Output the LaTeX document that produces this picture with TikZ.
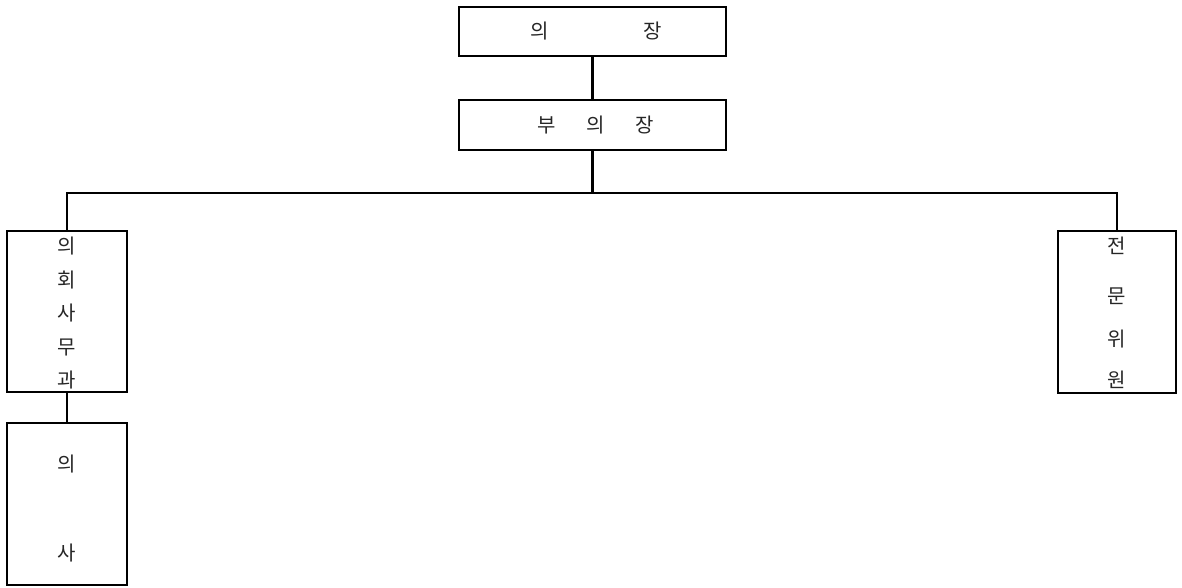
\documentclass[tikz,border=0pt]{standalone}
\usepackage{fontspec}
\newfontfamily\kr{Noto Sans CJK KR}
\begin{document}
\begin{tikzpicture}[x=1pt,y=-1pt,
  box/.style={draw, line width=2.4pt, inner sep=0pt},
  conn/.style={line width=2.4pt},
  lbl/.style={font=\kr\fontsize{20}{20}\selectfont, text=black!85, inner sep=0pt}]
\useasboundingbox (0,0) rectangle (1182,587);
% boxes
\node[box, minimum width=267pt, minimum height=49pt] (chair) at (592.5,31.5) {};
\node[box, minimum width=267pt, minimum height=50pt] (vice) at (592.5,125) {};
\node[box, minimum width=120pt, minimum height=161pt] (office) at (67,311.5) {};
\node[box, minimum width=120pt, minimum height=162pt] (member) at (67,504) {};
\node[box, minimum width=118pt, minimum height=162pt] (expert) at (1117,312) {};
% labels
\node[lbl] (c1) at (540,31) {의};
\node[lbl] (c2) at (653,31) {장};
\node[lbl] (v1) at (547,125) {부};
\node[lbl] (v2) at (596,125) {의};
\node[lbl] (v3) at (645,125) {장};
\node[lbl] (o1) at (67,246) {의};
\node[lbl] (o2) at (67,280) {회};
\node[lbl] (o3) at (67,313) {사};
\node[lbl] (o4) at (67,347) {무};
\node[lbl] (o5) at (67,380) {과};
\node[lbl] (m1) at (67,464) {의};
\node[lbl] (m2) at (67,553) {사};
\node[lbl] (e1) at (1117,246) {전};
\node[lbl] (e2) at (1117,296) {문};
\node[lbl] (e3) at (1117,339) {위};
\node[lbl] (e4) at (1117,380) {원};
% connectors
\coordinate (j) at (592.5,193);
\coordinate (jl) at (67,193);
\coordinate (jr) at (1117,193);
\draw[conn] (chair.south) -- (vice.north);
\draw[conn] (vice.south) -- (j);
\draw[conn] (office.north) -- (jl) -- (jr) -- (expert.north);
\draw[conn] (office.south) -- (member.north);
\end{tikzpicture}
\end{document}
